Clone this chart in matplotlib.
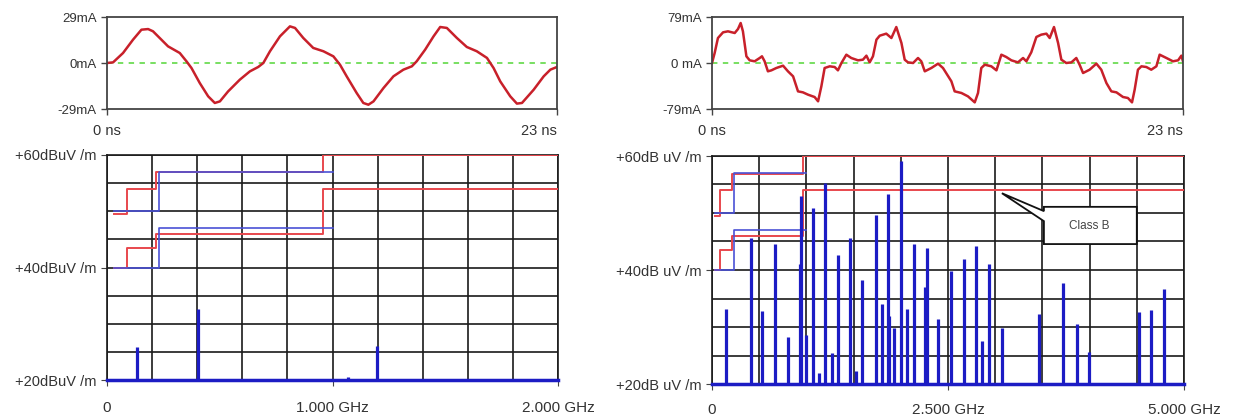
import numpy as np
import matplotlib
matplotlib.use("Agg")
import matplotlib.pyplot as plt
from matplotlib.patches import Polygon

plt.rcParams['font.family'] = ['Liberation Sans', 'DejaVu Sans']

# time traces (ns, mA)
t_left = [0.00, 0.31, 0.82, 1.33, 1.76, 2.10, 2.35, 2.78, 3.12, 3.72, 4.06, 4.32, 4.74, 5.17,
          5.51, 5.77, 6.19, 6.79, 7.30, 7.73, 7.99, 8.33, 8.84, 9.35, 9.61, 10.03, 10.54, 11.06,
          11.57, 11.91, 12.25, 12.76, 13.10, 13.36, 13.62, 14.13, 14.64, 15.15, 15.58, 15.83,
          16.26, 16.69, 17.03, 17.37, 17.88, 18.39, 18.90, 19.42, 19.76, 20.10, 20.61, 20.95,
          21.21, 21.81, 22.32, 22.66, 23.00]
i_left = [0.0, 0.4, 6.3, 14.7, 21.0, 21.4, 20.0, 14.7, 10.5, 6.3, 1.1, -3.2, -12.6, -21.0,
          -25.2, -24.2, -17.9, -10.5, -5.3, -2.5, 0.0, 7.4, 16.8, 23.1, 22.1, 15.8, 9.5, 7.4,
          4.2, -1.1, -8.4, -18.9, -25.2, -26.3, -24.2, -15.8, -8.4, -4.2, -2.1, 1.1,
          8.4, 16.8, 22.7, 22.1, 15.8, 10.1, 7.4, 3.2, -3.2, -11.6, -21.0, -25.6,
          -25.2, -16.8, -8.4, -4.2, -2.5]

t_right = [0.00, 0.13, 0.29, 0.54, 0.78, 1.11, 1.27, 1.40, 1.51, 1.68, 1.84, 2.08, 2.33, 2.44,
           2.57, 2.73, 2.90, 3.14, 3.47, 3.71, 3.96, 4.20, 4.44, 4.69, 5.01, 5.18, 5.34, 5.50,
           5.75, 5.99, 6.15, 6.32, 6.56, 6.80, 7.13, 7.37, 7.54, 7.70, 7.86, 8.03, 8.19, 8.51,
           8.76, 9.00, 9.25, 9.41, 9.57, 9.82, 10.06, 10.22, 10.39, 10.71, 11.04, 11.28, 11.69,
           11.85, 12.18, 12.50, 12.83, 12.99, 13.15, 13.32, 13.64, 13.89, 14.13, 14.37, 14.62,
           14.94, 15.19, 15.35, 15.59, 15.84, 16.08, 16.33, 16.49, 16.70, 16.90, 17.06, 17.30,
           17.55, 17.79, 17.95, 18.12, 18.44, 18.77, 19.01, 19.26, 19.50, 19.75, 20.07, 20.31,
           20.51, 20.64, 20.80, 20.97, 21.21, 21.45, 21.70, 21.86, 22.19, 22.51, 22.76, 22.92,
           23.00]
i_right = [0.0, 17.2, 42.9, 52.7, 54.4, 51.5, 58.4, 68.7, 54.4, 11.5, 4.6, 2.9, 8.6, 11.5,
           2.9, -14.3, -12.6, -8.6, -4.6, -14.3, -22.9, -48.7, -50.4, -54.4, -58.4, -65.8, -40.1, -8.6,
           -5.7, -6.9, -12.6, 0.0, 14.3, 8.6, 4.6, 5.7, 12.6, 1.1, 11.5, 40.1, 46.9, 50.4,
           42.9, 61.8, 34.4, 5.7, 1.1, 0.0, 8.6, 2.9, -14.3, -8.6, -1.1, -8.6, -31.5,
           -48.7, -51.5, -57.3, -67.6, -51.5, -8.6, -2.9, -5.7, -12.6, 14.3, 10.3, 4.6,
           1.1, 8.6, 2.9, 18.3, 44.7, 48.7, 50.4, 42.9, 61.8, 34.4, 5.7, 0.0,
           1.1, 8.6, -2.9, -17.2, -11.5, -1.1, -11.5, -34.4, -48.7, -50.4, -58.4, -60.1,
           -67.6, -45.8, -11.5, -5.7, -6.9, -11.5, -5.7, 14.3, 8.6, 2.9, 4.6, 12.6,
           2.9]

# spectrum lines (GHz, dBuV/m)
spec_left_freq = [0.132, 0.405, 1.067, 1.196]
spec_left_level = [25.8, 32.7, 20.5, 26.0]

spec_right_freq = [0.147, 0.416, 0.531, 0.668, 0.804, 0.930, 0.944, 0.993, 1.066, 1.133,
                   1.199, 1.269, 1.332, 1.458, 1.521, 1.590, 1.738, 1.805, 1.865, 1.879,
                   1.932, 1.999, 2.070, 2.137, 2.260, 2.275, 2.397, 2.528, 2.666, 2.796,
                   2.860, 2.930, 3.071, 3.463, 3.720, 3.862, 3.992, 4.521, 4.648, 4.785]
spec_right_level = [33.1, 45.7, 32.8, 44.5, 28.3, 41.0, 53.0, 28.6, 50.8, 21.9,
                    55.3, 25.4, 42.7, 45.7, 22.2, 38.3, 49.6, 34.0, 53.4, 32.0,
                    29.9, 59.1, 33.2, 44.5, 37.1, 43.8, 31.4, 39.9, 41.9, 44.2,
                    27.6, 41.0, 29.9, 32.2, 37.7, 30.5, 25.7, 32.6, 33.0, 36.6]

# limit lines: step start frequencies and levels
red_freq = [0.03, 0.088, 0.216, 0.96]
red_hi = [49.5, 54.0, 56.9, 60.0]
red_lo = [40.0, 43.5, 46.0, 54.0]
blue_freq = [0.03, 0.23]
blue_end = 1.0
blue_hi = [50.0, 57.0]
blue_lo = [40.0, 47.0]

TXT = '#333333'
RED_W = '#c8202a'
RED_L = '#e8474d'
BLUE_L = '#4a52d6'
BLUE_S = '#1c1cc4'

fig = plt.figure(figsize=(12.38, 4.17), dpi=100)
W, H = 1238, 417


def box(x0, y0, x1, y1):
    return fig.add_axes([x0 / W, 1 - y1 / H, (x1 - x0) / W, (y1 - y0) / H])


def scope(ax, t, i, amp, labels):
    ax.axhline(0, color='#6ddc55', lw=1.3, dashes=(3, 3))
    ax.plot(t, i, color=RED_W, lw=1.8)
    ax.set_xlim(0, 23)
    ax.set_ylim(-amp, amp)
    ax.set_yticks([-amp, 0, amp])
    ax.set_yticklabels(labels)
    ax.set_xticks([0, 23])
    ax.set_xticklabels(['0 ns', '23 ns'])
    ax.get_xticklabels()[1].set_horizontalalignment('right')
    ax.tick_params(colors='#444444', labelcolor=TXT, labelsize=9.5, length=4, width=1)
    ax.tick_params(axis='x', pad=6.5, labelsize=10.5)
    for s in ax.spines.values():
        s.set_color('#444444')
        s.set_linewidth(1.3)


def spectrum(ax, fmax, fstep, sf, sl, ylabels, xlabels, xpad):
    ax.set_xlim(0, fmax)
    ax.set_ylim(20, 60)
    ax.set_xticks([0, fmax / 2, fmax])
    ax.set_xticklabels(xlabels)
    ax.set_xticks(np.arange(0, fmax + 1e-9, fstep), minor=True)
    ax.set_yticks([20, 40, 60])
    ax.set_yticklabels(ylabels)
    ax.set_yticks(np.arange(20, 61, 5), minor=True)
    ax.grid(which='both', color='#1a1a1a', lw=1.2)
    ax.set_axisbelow(True)
    ax.tick_params(which='minor', length=0)
    ax.tick_params(which='major', length=4, colors='#444444', labelcolor=TXT, labelsize=10.5)
    ax.tick_params(axis='x', pad=xpad, labelsize=11)
    for s in ax.spines.values():
        s.set_color('#1a1a1a')
        s.set_linewidth(1.2)
    # limit lines
    for lv in (red_hi, red_lo):
        ax.step(red_freq + [fmax], lv + [lv[-1]], where='post', color=RED_L, lw=1.4, zorder=3)
    for lv in (blue_hi, blue_lo):
        ax.step(blue_freq + [blue_end], lv + [lv[-1]], where='post', color=BLUE_L, lw=1.2, zorder=3)
    ax.vlines(sf, 20, sl, color=BLUE_S, lw=2.3, zorder=4)
    ax.axhline(20, color=BLUE_S, lw=2.5, zorder=5, clip_on=False)


ax1 = box(107, 17, 557, 109)
scope(ax1, t_left, i_left, 29, ['-29mA', '0mA', '29mA'])
ax2 = box(712, 17, 1183, 109)
scope(ax2, t_right, i_right, 79, ['-79mA', '0 mA', '79mA'])

ax3 = box(107, 155, 558, 380)
spectrum(ax3, 2.0, 0.2, spec_left_freq, spec_left_level,
         ['+20dBuV /m', '+40dBuV /m', '+60dBuV /m'], ['0', '1.000 GHz', '2.000 GHz'], 11)
ax4 = box(712, 156, 1184, 384)
spectrum(ax4, 5.0, 0.5, spec_right_freq, spec_right_level,
         ['+20dB uV /m', '+40dB uV /m', '+60dB uV /m'], ['0', '2.500 GHz', '5.000 GHz'], 9.5)

# "Class B" callout
callout = Polygon([(3.516, 51.08), (4.50, 51.08), (4.50, 44.55), (3.516, 44.55),
                   (3.516, 48.57), (3.071, 53.47), (3.516, 50.33)],
                  closed=True, facecolor='white', edgecolor='#111111', lw=1.3, zorder=6)
ax4.add_patch(callout)
ax4.text(4.0, 47.8, 'Class B', ha='center', va='center', fontsize=8.5, color='#444444', zorder=7)

fig.savefig('out.png', dpi=100)
